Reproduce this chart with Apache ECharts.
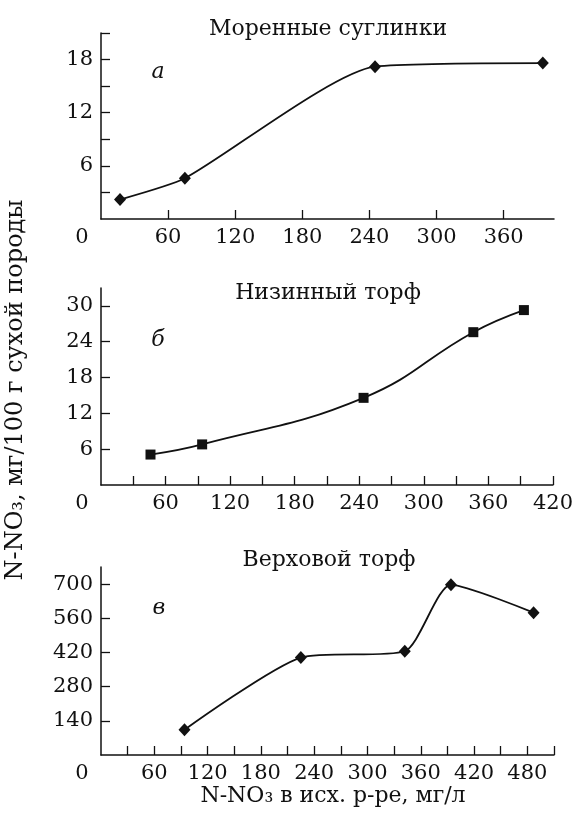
<!DOCTYPE html>
<html>
<head>
<meta charset="utf-8">
<script src="https://cdn.jsdelivr.net/npm/echarts@6/dist/echarts.min.js"></script>
<style>
    html, body { margin: 0; padding: 0; background: #fff; }
    #chart { width: 576px; height: 820px; }
</style>
</head>
<body>
<div id="chart"></div>
<script>
// а — моренные суглинки
var xA = [17, 75, 245, 395];
var yA = [2.2, 4.6, 17.2, 17.6];
// б — низинный торф
var xB = [46, 94, 244, 346, 393];
var yB = [5.1, 6.8, 14.6, 25.6, 29.3];
// в — верховой торф
var xC = [94, 225, 342, 394, 487];
var yC = [103, 399, 425, 697, 583];

// деления и подписи осей
var xTicksA = [60, 120, 180, 240, 300, 360];
var xLabelsA = [0, 60, 120, 180, 240, 300, 360];
var yTicksA = [3, 6, 9, 12, 15, 18, 21];
var yLabelsA = [6, 12, 18];

var xTicksB = [30, 60, 90, 120, 150, 180, 210, 240, 270, 300, 330, 360, 390, 420];
var xLabelsB = [0, 60, 120, 180, 240, 300, 360, 420];
var yTicksB = [6, 12, 18, 24, 30];
var yLabelsB = [6, 12, 18, 24, 30];

var xTicksC = [30, 60, 90, 120, 150, 180, 210, 240, 270, 300, 330, 360, 390, 420, 450, 480, 510];
var xLabelsC = [0, 60, 120, 180, 240, 300, 360, 420, 480];
var yTicksC = [140, 280, 420, 560, 700];
var yLabelsC = [140, 280, 420, 560, 700];

var FONT = '"DejaVu Serif", "Liberation Serif", serif';
var INK = '#111';

function xAxis(idx, max, ticks, labels) {
    return {
        type: 'value', gridIndex: idx, min: 0, max: max,
        axisLine: { show: true, onZero: false, lineStyle: { color: INK, width: 1.5 } },
        axisTick: { show: true, inside: true, length: 9, customValues: ticks, lineStyle: { color: INK, width: 1.3 } },
        axisLabel: {
            customValues: labels, margin: 8, color: INK, fontFamily: FONT, fontSize: 21,
            formatter: function (v) { return v === 0 ? '{z|0}' : String(v); },
            rich: { z: { padding: [0, 38, 0, 0], color: INK, fontFamily: FONT, fontSize: 21 } }
        },
        splitLine: { show: false }
    };
}

function yAxis(idx, max, ticks, labels) {
    return {
        type: 'value', gridIndex: idx, min: 0, max: max,
        axisLine: { show: true, onZero: false, lineStyle: { color: INK, width: 1.5 } },
        axisTick: { show: true, inside: true, length: 9, customValues: ticks, lineStyle: { color: INK, width: 1.3 } },
        axisLabel: { customValues: labels, margin: 8, color: INK, fontFamily: FONT, fontSize: 21 },
        splitLine: { show: false }
    };
}

function pairs(xs, ys) {
    return xs.map(function (x, i) { return [x, ys[i]]; });
}

function curve(idx, xs, ys, symbol, size, smooth) {
    return {
        type: 'line', xAxisIndex: idx, yAxisIndex: idx,
        data: pairs(xs, ys), smooth: smooth,
        symbol: symbol, symbolSize: size, showAllSymbol: true,
        lineStyle: { color: INK, width: 1.8 },
        itemStyle: { color: INK, borderWidth: 0 },
        emphasis: { disabled: true }
    };
}

function label(x, y, text, size, extra) {
    var style = { text: text, x: 0, y: 0, fill: INK, fontFamily: FONT, fontSize: size, align: 'center', verticalAlign: 'middle' };
    for (var k in extra) style[k] = extra[k];
    return { type: 'text', x: x, y: y, style: style, silent: true };
}

var chart = echarts.init(document.getElementById('chart'));
var option = {
    animation: false,
    grid: [
        { left: 101, top: 33, width: 453, height: 186 },
        { left: 101, top: 288, width: 453, height: 197 },
        { left: 101, top: 567, width: 453, height: 188 }
    ],
    xAxis: [
        xAxis(0, 405, xTicksA, xLabelsA),
        xAxis(1, 420, xTicksB, xLabelsB),
        xAxis(2, 510, xTicksC, xLabelsC)
    ],
    yAxis: [
        yAxis(0, 21, yTicksA, yLabelsA),
        yAxis(1, 33, yTicksB, yLabelsB),
        yAxis(2, 770, yTicksC, yLabelsC)
    ],
    series: [
        curve(0, xA, yA, 'diamond', [12, 13], 0.2),
        curve(1, xB, yB, 'rect', 10, 0.45),
        curve(2, xC, yC, 'diamond', [12, 13], 0.22)
    ],
    graphic: [
        label(328, 29, 'Моренные суглинки', 22),
        label(328, 293, 'Низинный торф', 22),
        label(329, 560, 'Верховой торф', 22),
        label(158, 72, 'а', 22, { fontStyle: 'italic' }),
        label(158, 340, 'б', 22, { fontStyle: 'italic' }),
        label(159, 608, 'в', 22, { fontStyle: 'italic' }),
        label(333, 796, 'N-NO₃ в исх. р-ре, мг/л', 22),
        { type: 'text', x: 16, y: 390, rotation: Math.PI / 2, silent: true,
          style: { text: 'N-NO₃, мг/100 г сухой породы', fill: INK, fontFamily: FONT, fontSize: 24, align: 'center', verticalAlign: 'middle' } }
    ]
};
chart.setOption(option);
</script>
</body>
</html>
